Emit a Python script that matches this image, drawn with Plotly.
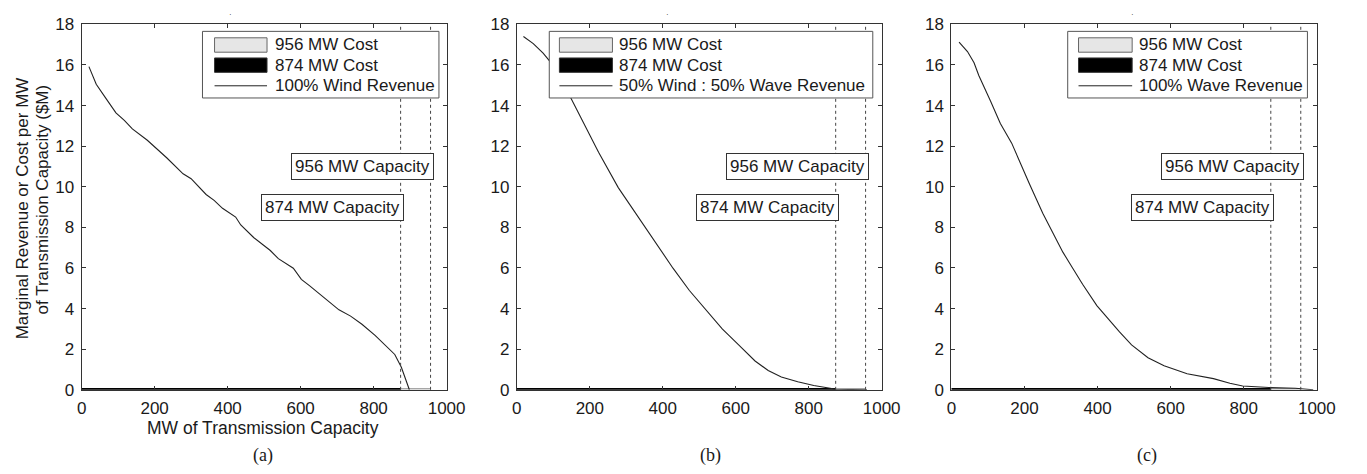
import plotly.graph_objects as go

# ---- data -------------------------------------------------------------
# (a) 100% wind: marginal revenue per MW of transmission capacity ($M)
wind_mw = [20, 40, 67, 94, 117, 139, 180, 233, 278, 300, 341, 363, 386, 422, 436,
           472, 517, 539, 580, 602, 625, 651, 674, 705, 737, 768, 804, 831, 858, 876, 898]
wind_rev = [15.92, 15.05, 14.34, 13.64, 13.27, 12.85, 12.29, 11.43, 10.64, 10.40, 9.62,
            9.33, 8.94, 8.51, 8.12, 7.49, 6.86, 6.46, 5.99, 5.44, 5.12, 4.73, 4.41, 3.94,
            3.63, 3.23, 2.68, 2.21, 1.74, 1.11, 0.0]

# (b) 50% wind : 50% wave
mix_mw = [18, 45, 72, 90, 148, 195, 224, 278, 332, 376, 428, 473, 518, 563, 608, 653,
          689, 725, 770, 814, 859, 874, 960]
mix_rev = [17.40, 17.05, 16.58, 16.19, 14.37, 12.70, 11.70, 9.96, 8.54, 7.33, 5.99, 4.89,
           3.94, 3.00, 2.21, 1.42, 0.95, 0.63, 0.40, 0.21, 0.08, 0.03, 0.0]

# (c) 100% wave
wave_mw = [21, 44, 62, 75, 107, 134, 165, 187, 214, 250, 281, 305, 332, 359, 398, 430,
           460, 493, 520, 538, 582, 645, 717, 762, 797, 869, 941, 990]
wave_rev = [17.13, 16.66, 16.11, 15.48, 14.22, 13.12, 12.15, 11.22, 10.12, 8.70, 7.60,
            6.78, 5.99, 5.20, 4.15, 3.45, 2.85, 2.21, 1.82, 1.58, 1.18, 0.79, 0.55, 0.32,
            0.19, 0.11, 0.08, 0.0]

# transmission cost per MW for the two line ratings ($M)
cost_956_mw = [0, 956]
cost_956 = [0.05, 0.05]
cost_874_mw = [0, 874]
cost_874 = [0.05, 0.05]

capacities = [956, 874]
capacity_label_y = [11, 9]

revenue_names = ["100% Wind Revenue", "50% Wind : 50% Wave Revenue", "100% Wave Revenue"]
panel_tags = ["(a)", "(b)", "(c)"]
x_ticks = [0, 200, 400, 600, 800, 1000]
y_ticks = [0, 2, 4, 6, 8, 10, 12, 14, 16, 18]

# ---- layout helpers (pixel -> paper) ----------------------------------
W, H = 1367, 474
def px(x):
    return x / W
def py(y):
    return 1 - y / H

SANS = "Arial, Liberation Sans, sans-serif"
SERIF = "Times New Roman, Liberation Serif, serif"
INK = "#1a1a1a"
FRAME = "#333333"

panels = [
    dict(dom=(78, 449.5), box=(201, 441.7), patch=(213.3, 266.7), text_x=273,
         tag_x=263, dot_x=230, mw=wind_mw, rev=wind_rev),
    dict(dom=(521, 892.3), box=(554, 883.3), patch=(564.3, 618.3), text_x=623.3,
         tag_x=718, dot_x=674, mw=mix_mw, rev=mix_rev),
    dict(dom=(963.3, 1335.3), box=(1081.7, 1325.7), patch=(1092.7, 1147.3), text_x=1152.3,
         tag_x=1162, dot_x=1148, mw=wave_mw, rev=wave_rev),
]
y_dom = [py(396.7), py(16)]

fig = go.Figure()
shapes = []
annotations = []

for i, p in enumerate(panels):
    n = "" if i == 0 else str(i + 1)
    xa, ya = "x" + n, "y" + n

    # cost areas (956 MW underneath, 874 MW on top)
    fig.add_trace(go.Scatter(x=cost_956_mw, y=cost_956, mode="lines", fill="tozeroy",
                             fillcolor="#e6e6e6", line=dict(color="#888888", width=1),
                             name="956 MW Cost", showlegend=False, xaxis=xa, yaxis=ya))
    fig.add_trace(go.Scatter(x=cost_874_mw, y=cost_874, mode="lines", fill="tozeroy",
                             fillcolor="black", line=dict(color="black", width=1.5),
                             name="874 MW Cost", showlegend=False, xaxis=xa, yaxis=ya))
    # revenue curve
    fig.add_trace(go.Scatter(x=p["mw"], y=p["rev"], mode="lines",
                             line=dict(color="#222222", width=1.1),
                             name=revenue_names[i], showlegend=False, xaxis=xa, yaxis=ya))

    axis_common = dict(showline=True, linecolor=FRAME, linewidth=1, mirror="ticks",
                       ticks="inside", ticklen=4, tickcolor=FRAME, showgrid=False,
                       zeroline=False, tickfont=dict(family=SANS, size=17, color=INK))
    fig.update_layout(**{
        "xaxis" + n: dict(domain=[px(p["dom"][0]), px(p["dom"][1])], range=[0, 1000],
                          tickvals=x_ticks, anchor=ya, ticklabelstandoff=3, **axis_common),
        "yaxis" + n: dict(domain=y_dom, range=[0, 18], tickvals=y_ticks, anchor=xa,
                          ticklabelstandoff=3, **axis_common),
    })

    # capacity markers
    for cap, ly in zip(capacities, capacity_label_y):
        shapes.append(dict(type="line", xref=xa, yref=ya + " domain", x0=cap, x1=cap,
                           y0=0, y1=1, line=dict(color="#444444", width=1, dash="dot"),
                           layer="above"))
        annotations.append(dict(text=f"{cap} MW Capacity", xref=xa, yref=ya, x=cap, y=ly,
                                xanchor="right", yanchor="middle", xshift=3, showarrow=False,
                                bgcolor="white", bordercolor="#333333", borderwidth=1,
                                borderpad=3, font=dict(family=SANS, size=17, color=INK)))

    # legend box
    bx0, bx1 = p["box"]
    shapes.append(dict(type="rect", xref="paper", yref="paper", x0=px(bx0), x1=px(bx1),
                       y0=py(92.7), y1=py(23.3), fillcolor="white",
                       line=dict(color="#555555", width=1), layer="above"))
    lx0, lx1 = p["patch"]
    shapes.append(dict(type="rect", xref="paper", yref="paper", x0=px(lx0), x1=px(lx1),
                       y0=py(45), y1=py(30), fillcolor="#e6e6e6",
                       line=dict(color="#666666", width=1), layer="above"))
    shapes.append(dict(type="rect", xref="paper", yref="paper", x0=px(lx0), x1=px(lx1),
                       y0=py(66), y1=py(51), fillcolor="black",
                       line=dict(color="#333333", width=1), layer="above"))
    shapes.append(dict(type="line", xref="paper", yref="paper", x0=px(lx0), x1=px(lx1),
                       y0=py(80), y1=py(80), line=dict(color="#222222", width=1),
                       layer="above"))
    for label, ty in zip(["956 MW Cost", "874 MW Cost", revenue_names[i]], [37.5, 58.5, 80]):
        annotations.append(dict(text=label, xref="paper", yref="paper", x=px(p["text_x"]),
                                y=py(ty), xanchor="left", yanchor="middle", showarrow=False,
                                font=dict(family=SANS, size=17, color=INK)))

    # panel tag and the small title mark above each panel
    annotations.append(dict(text=panel_tags[i], xref="paper", yref="paper", x=px(p["tag_x"]),
                            y=py(465), xanchor="center", yanchor="middle", showarrow=False,
                            font=dict(family=SERIF, size=18, color=INK)))
    annotations.append(dict(text="·", xref="paper", yref="paper", x=px(p["dot_x"]),
                            y=py(5.5), xanchor="center", yanchor="middle", showarrow=False,
                            font=dict(family=SANS, size=8, color=INK)))

# axis titles (left panel only)
annotations.append(dict(text="MW of Transmission Capacity", xref="paper", yref="paper",
                        x=px(263), y=py(436), xanchor="center", yanchor="middle",
                        showarrow=False, font=dict(family=SANS, size=17.5, color=INK)))
annotations.append(dict(text="Marginal Revenue or Cost per MW", xref="paper", yref="paper",
                        x=px(18), y=py(208), xanchor="center", yanchor="middle",
                        textangle=-90, showarrow=False,
                        font=dict(family=SANS, size=17, color=INK)))
annotations.append(dict(text="of Transmission Capacity ($M)", xref="paper", yref="paper",
                        x=px(38), y=py(198), xanchor="center", yanchor="middle",
                        textangle=-90, showarrow=False,
                        font=dict(family=SANS, size=17, color=INK)))

fig.update_layout(width=W, height=H, autosize=False,
                  margin=dict(l=0, r=0, t=0, b=0, pad=0),
                  paper_bgcolor="white", plot_bgcolor="white",
                  shapes=shapes, annotations=annotations, showlegend=False)

fig.write_html("out.html")
